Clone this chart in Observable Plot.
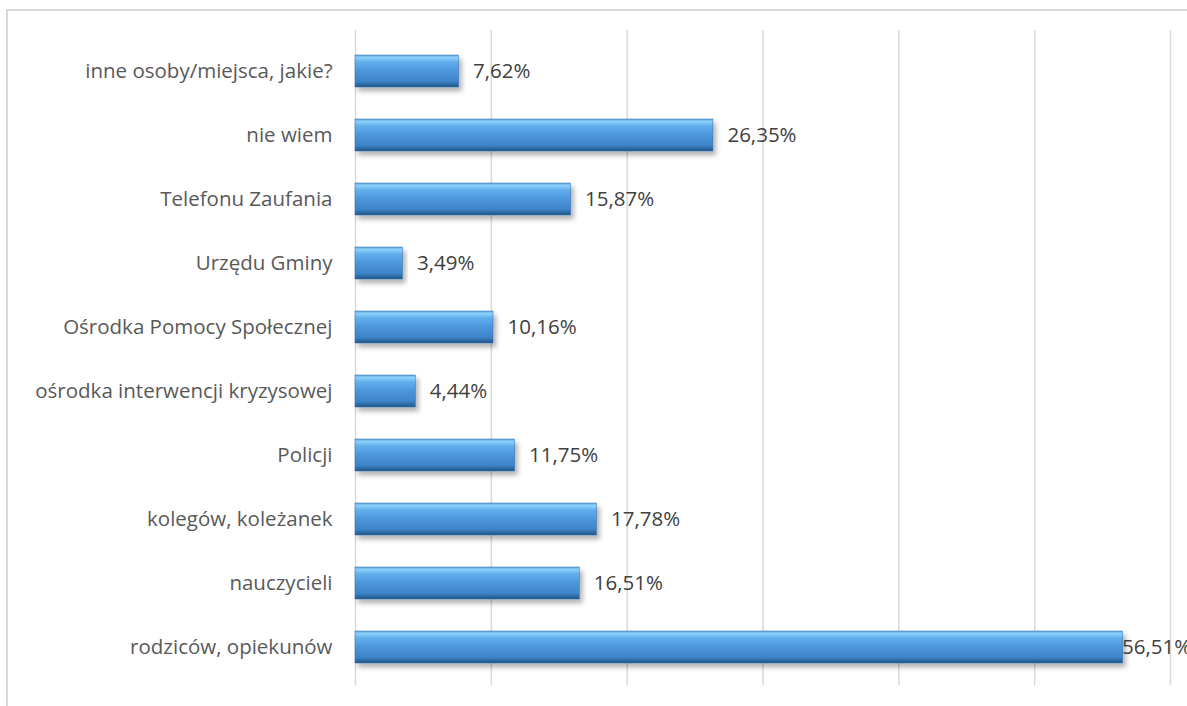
<!DOCTYPE html>
<html>
<head>
<meta charset="utf-8">
<script src="https://cdn.jsdelivr.net/npm/d3@7"></script>
<script src="https://cdn.jsdelivr.net/npm/@observablehq/plot@0.6"></script>
<style>
  html, body { margin: 0; padding: 0; background: #fff; }
  #wrap { position: relative; width: 1187px; height: 706px; overflow: hidden; }
  #frame { position: absolute; left: 6px; top: 9px; width: 1200px; height: 720px; border: 2px solid #d9d9d9; box-sizing: border-box; }
  #chart { position: absolute; left: 0; top: 0; }
</style>
</head>
<body>
<div id="wrap"><div id="frame"></div><div id="chart"></div></div>
<script>
const categories = [
  "inne osoby/miejsca, jakie?",
  "nie wiem",
  "Telefonu Zaufania",
  "Urzędu Gminy",
  "Ośrodka Pomocy Społecznej",
  "ośrodka interwencji kryzysowej",
  "Policji",
  "kolegów, koleżanek",
  "nauczycieli",
  "rodziców, opiekunów"
];
const values = [7.62, 26.35, 15.87, 3.49, 10.16, 4.44, 11.75, 17.78, 16.51, 56.51];
const xTicks = [0, 10, 20, 30, 40, 50, 60];

const data = categories.map((c, i) => ({category: c, value: values[i]}));
const fmt = v => v.toFixed(2).replace(".", ",") + "%";
const maxVal = d3.max(values);

const chart = Plot.plot({
  width: 1187,
  height: 706,
  marginLeft: 355,
  marginRight: 17,
  marginTop: 30,
  marginBottom: 21,
  style: {fontFamily: "'Open Sans', sans-serif", fontSize: "20.5px", color: "#595959", background: "transparent"},
  x: {domain: [0, 60], ticks: xTicks, axis: null},
  y: {domain: categories, range: [36, 682], paddingInner: 0.5, paddingOuter: 0.25, label: null},
  marks: [
    Plot.ruleX(xTicks, {stroke: "#d9d9d9", strokeWidth: 1.5, strokeOpacity: 1}),
    Plot.barX(data, {y: "category", x: "value", fill: "url(#barGrad)", stroke: "#2f6aa6", strokeWidth: 0.5}),
    Plot.text(data.filter(d => d.value < maxVal), {y: "category", x: "value", text: d => fmt(d.value), textAnchor: "start", dx: 14, fill: "#404040", fontSize: 20.5}),
    Plot.text(data.filter(d => d.value === maxVal), {y: "category", x: "value", text: d => fmt(d.value), textAnchor: "start", dx: -1, fill: "#404040", fontSize: 20.5}),
    Plot.axisY({tickSize: 0, tickPadding: 23, fill: "#595959", fontSize: 20.5, label: null})
  ]
});

// gradient + shadow defs
const svg = d3.select(chart);
const defs = svg.insert("defs", ":first-child");
const g = defs.append("linearGradient").attr("id", "barGrad").attr("x1", 0).attr("y1", 0).attr("x2", 0).attr("y2", 1);
[["0%", "#5aa6e6"], ["8%", "#8dd1fa"], ["22%", "#62adec"], ["50%", "#4b96dc"], ["82%", "#3f84c8"], ["92%", "#2f68a3"], ["100%", "#24558a"]]
  .forEach(([o, c]) => g.append("stop").attr("offset", o).attr("stop-color", c));
const f = defs.append("filter").attr("id", "barShadow").attr("x", "-5%").attr("y", "-20%").attr("width", "115%").attr("height", "160%");
f.append("feDropShadow").attr("dx", 3).attr("dy", 4).attr("stdDeviation", 2.5).attr("flood-color", "#000").attr("flood-opacity", 0.3);
svg.selectAll("g[aria-label='bar'] rect").attr("filter", "url(#barShadow)");

document.getElementById("chart").appendChild(chart);
</script>
</body>
</html>
